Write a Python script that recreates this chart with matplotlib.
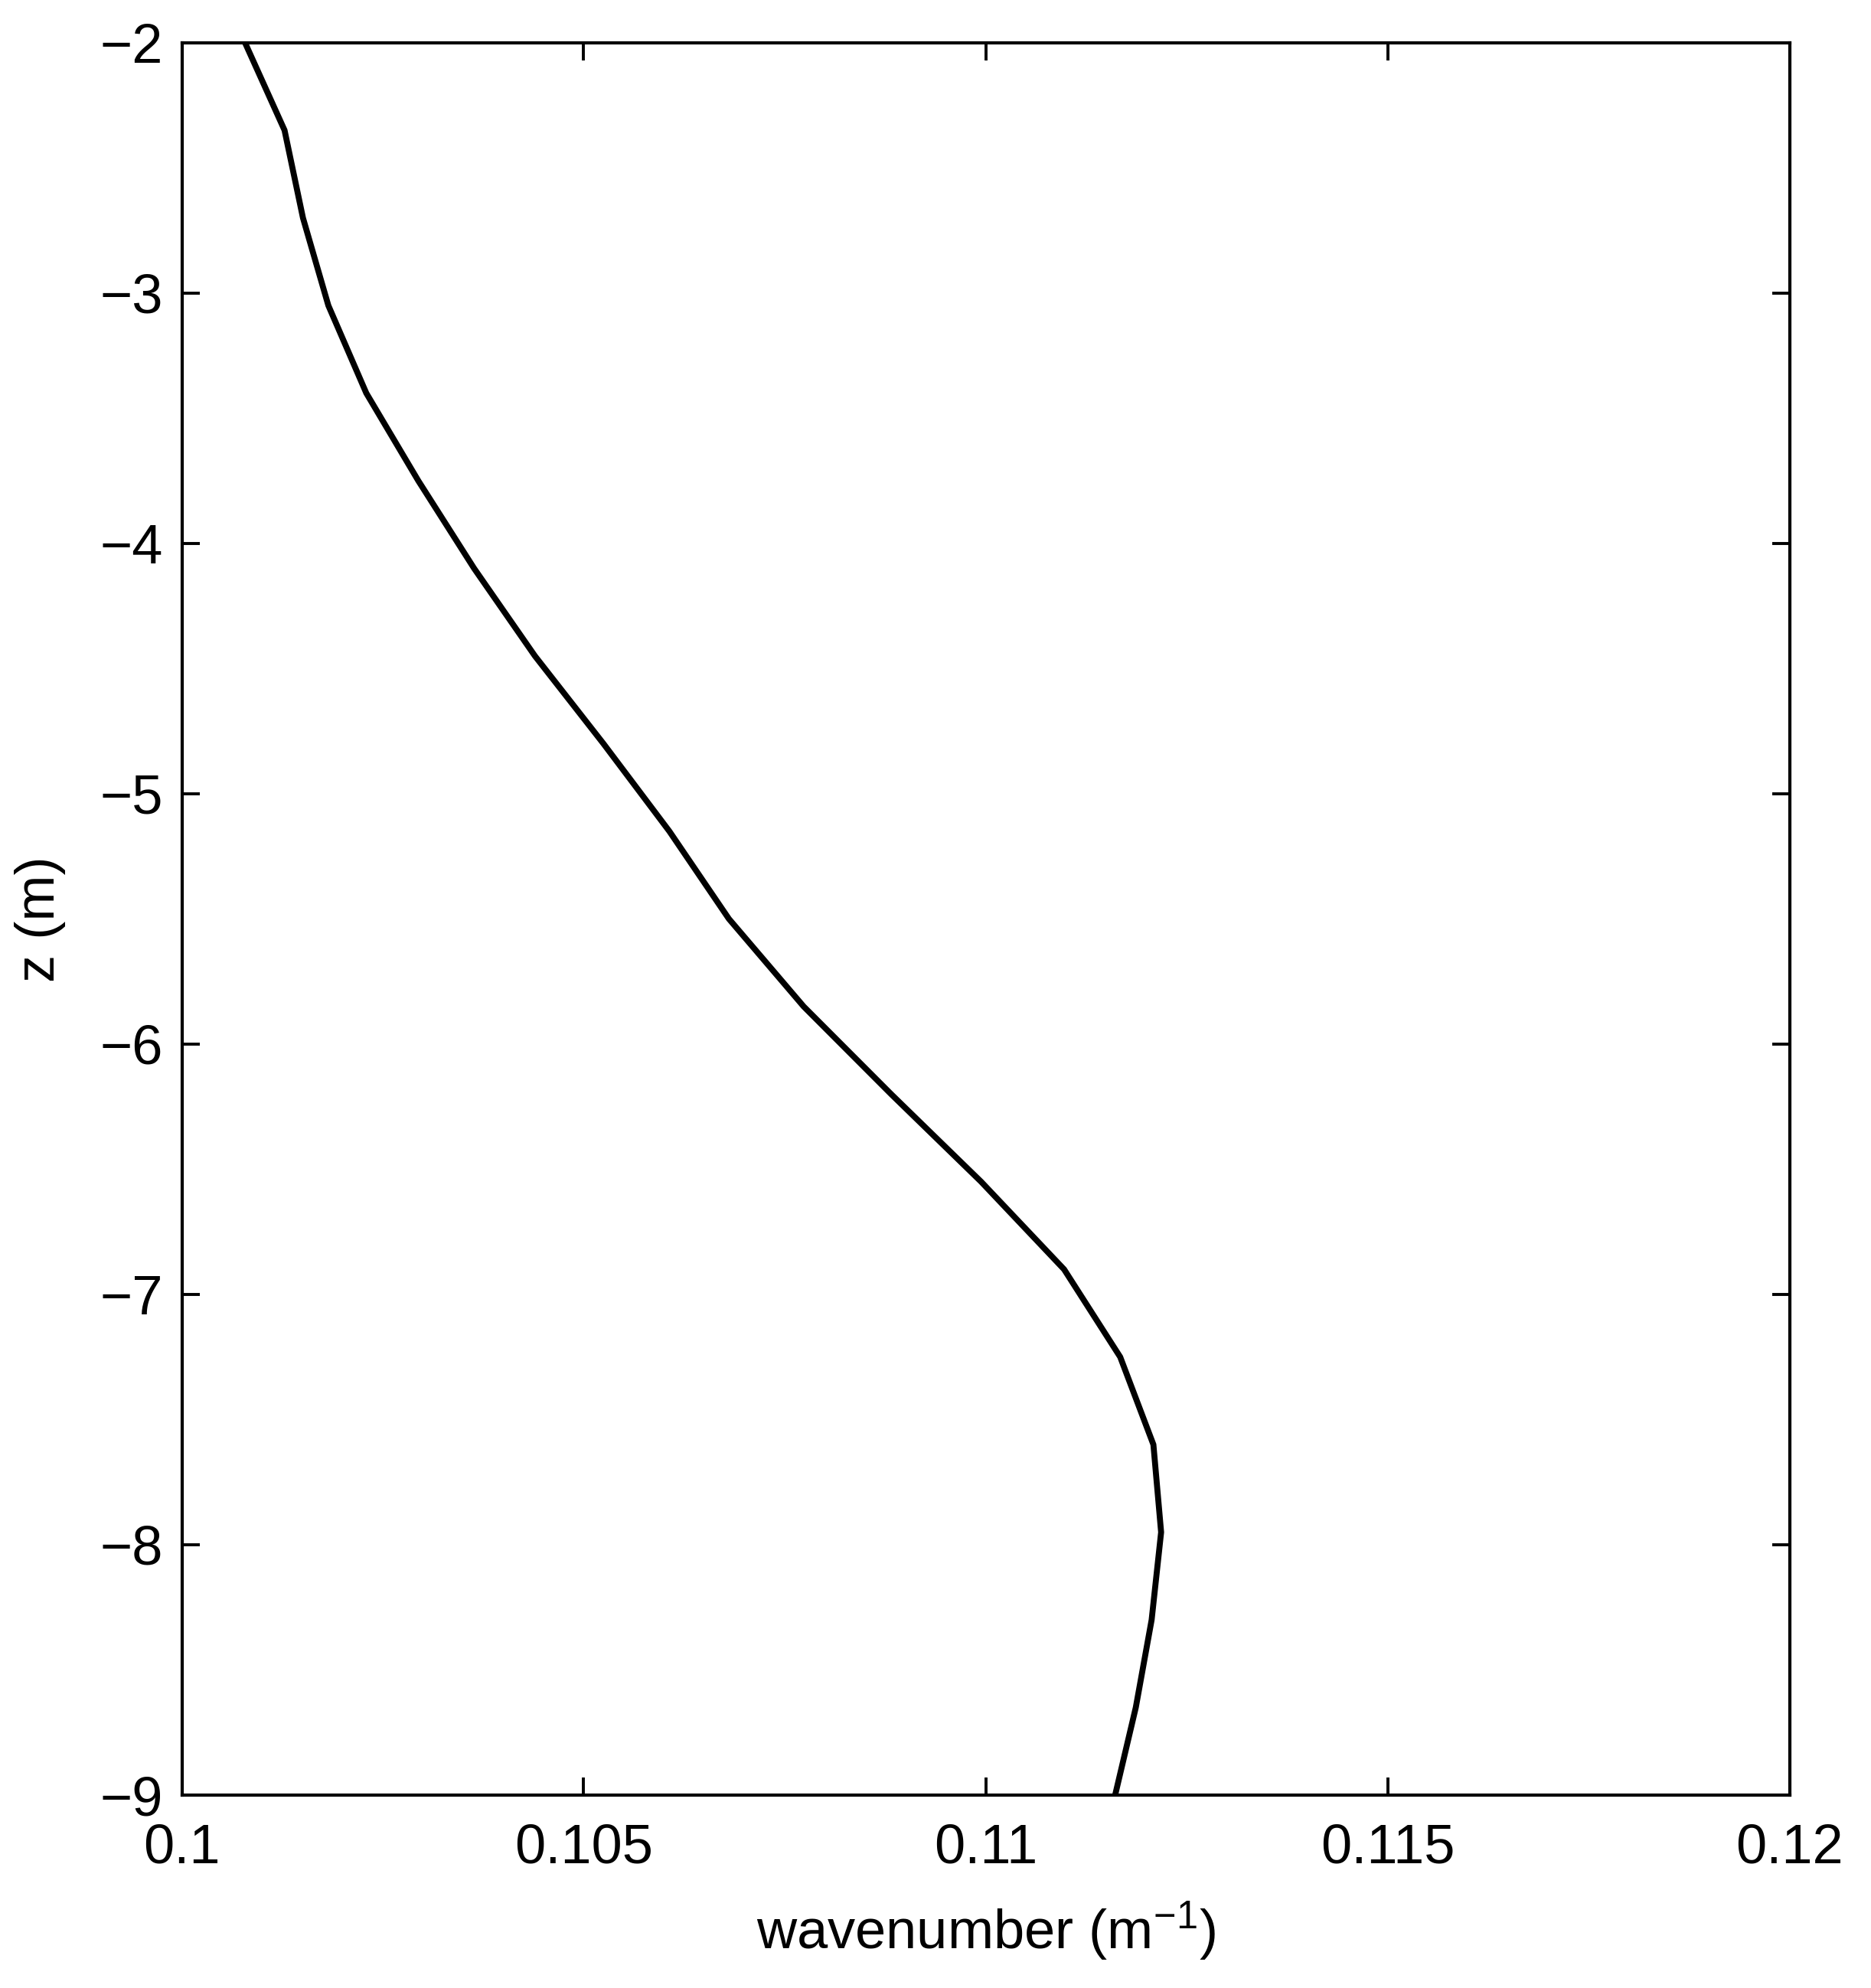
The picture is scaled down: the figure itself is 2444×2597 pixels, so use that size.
import matplotlib
matplotlib.use("Agg")
import matplotlib.pyplot as plt

# ---- data ----
depth_z = [-2.0, -2.35, -2.7, -3.05, -3.4, -3.75, -4.1, -4.45, -4.8, -5.15, -5.5,
           -5.85, -6.2, -6.55, -6.9, -7.25, -7.6, -7.95, -8.3, -8.65, -9.0]
wavenumber = [0.100786, 0.101278, 0.101507, 0.101823, 0.102295, 0.102942, 0.103636,
              0.104393, 0.105245, 0.106065, 0.106806, 0.107736, 0.108824, 0.109944,
              0.110976, 0.111674, 0.112087, 0.112183, 0.112065, 0.111868, 0.111611]
x_ticks = [0.1, 0.105, 0.11, 0.115, 0.12]
x_tick_labels = ["0.1", "0.105", "0.11", "0.115", "0.12"]
y_ticks = [-9, -8, -7, -6, -5, -4, -3, -2]
y_tick_labels = ["\u22129", "\u22128", "\u22127", "\u22126", "\u22125", "\u22124", "\u22123", "\u22122"]

plt.rcParams['font.family'] = ['Liberation Sans', 'DejaVu Sans']
plt.rcParams['mathtext.default'] = 'regular'

W, H, DPI = 2444, 2597, 200
fig = plt.figure(figsize=(W / DPI, H / DPI), dpi=DPI)
left, right = 237.5 / W, 2337.5 / W
bottom, top = (H - 2345) / H, (H - 55.7) / H
ax = fig.add_axes([left, bottom, right - left, top - bottom])

ax.plot(wavenumber, depth_z, color='black', linewidth=2.8)

ax.set_xlim(0.1, 0.12)
ax.set_ylim(-9, -2)
ax.set_xticks(x_ticks)
ax.set_xticklabels(x_tick_labels)
ax.set_yticks(y_ticks)
ax.set_yticklabels(y_tick_labels)

ax.tick_params(direction='in', length=8.3, width=1.4, labelsize=26, pad=9,
               top=True, right=True, colors='black')
ax.tick_params(axis='x', pad=13)
for sp in ax.spines.values():
    sp.set_linewidth(1.5)

ax.set_xlabel("wavenumber (m$^{-1}$)", fontsize=26, labelpad=12)
ax.set_ylabel("z (m)", fontsize=26, labelpad=16)

fig.savefig("out.png", dpi=DPI, facecolor='white')
